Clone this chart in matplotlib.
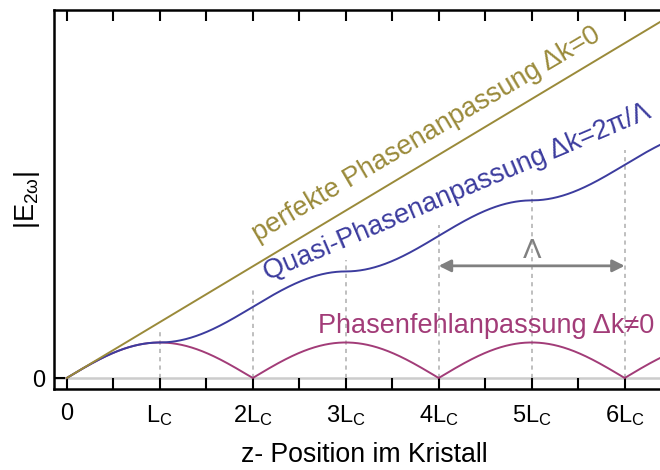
import numpy as np
import matplotlib
matplotlib.use("Agg")
import matplotlib.pyplot as plt

plt.rcParams['font.family'] = ['Liberation Sans', 'DejaVu Sans']
plt.rcParams['mathtext.fontset'] = 'custom'
plt.rcParams['mathtext.rm'] = 'Liberation Sans'
plt.rcParams['mathtext.it'] = 'Liberation Sans:italic'
plt.rcParams['mathtext.bf'] = 'Liberation Sans:bold'
plt.rcParams['mathtext.default'] = 'rm'

# Positions along the crystal in units of the coherence length L_C
tick_positions = [0, 1, 2, 3, 4, 5, 6]
tick_labels = ['0', '$L_C$', '$2L_C$', '$3L_C$', '$4L_C$', '$5L_C$', '$6L_C$']
half_positions = [0.5, 1.5, 2.5, 3.5, 4.5, 5.5]
z_end = 6.38

# Heights of the dotted guides at each multiple of L_C
guide_positions = [1, 2, 3, 4, 5, 6]
guide_heights = [0.82, 1.61, 2.11, 2.74, 3.41, 4.09]

# Poling period marker
period_start, period_end = 4, 6
period_height = 2.01

col_pm = '#9a8a3a'
col_qpm = '#3c3c9e'
col_mis = '#a23c78'
col_grey = '#808080'

# Field amplitude of the second harmonic (units: L_C), dk = pi / L_C
z = np.linspace(0, z_end, 2000)
dk = np.pi
E_pm = z
E_mis = np.abs(2.0 / dk * np.sin(dk * z / 2.0))
# quasi phase matching: the sign of d flips every L_C, so the in-phase
# contribution adds up with |cos(dk z / 2)|
growth = np.abs(np.cos(dk * z / 2.0))
E_qpm = np.concatenate([[0.0], np.cumsum(0.5 * (growth[1:] + growth[:-1]) * np.diff(z))])

fig = plt.figure(figsize=(6.6, 4.7), dpi=100)
ax = fig.add_axes([54 / 660, 81 / 470, 606 / 660, 379 / 470])
ax.set_xlim(-0.137, z_end)
ax.set_ylim(-0.197, 6.595)

ax.axhline(0, color='#cccccc', lw=1.8, zorder=0.5)
ax.vlines(guide_positions, 0, guide_heights, colors='#b4b4b4',
          linestyles=(0, (2.5, 2.5)), lw=1.2, zorder=0.8)

ax.plot(z, E_mis, color=col_mis, lw=1.4, zorder=2)
ax.plot(z, E_qpm, color=col_qpm, lw=1.4, zorder=2)
ax.plot(z, E_pm, color=col_pm, lw=1.4, zorder=2)

ax.text(3.906, 4.254, 'perfekte Phasenanpassung Δk=0', color=col_pm, fontsize=19.5,
        rotation=30.5, rotation_mode='anchor', ha='center', va='baseline')
ax.text(4.229, 3.219, 'Quasi-Phasenanpassung Δk=2π/Λ', color=col_qpm, fontsize=19.5,
        rotation=23, rotation_mode='anchor', ha='center', va='baseline')
ax.text(4.514, 0.806, 'Phasenfehlanpassung Δk≠0', color=col_mis, fontsize=19.5,
        ha='center', va='baseline')

ax.annotate('', xy=(period_end, period_height), xytext=(period_start, period_height),
            arrowprops=dict(arrowstyle='<|-|>', color=col_grey, lw=2,
                            mutation_scale=18, shrinkA=0, shrinkB=0))
ax.text((period_start + period_end) / 2, 2.15, 'Λ', color=col_grey, fontsize=20,
        ha='center', va='baseline')

ax.set_xticks(tick_positions)
ax.set_xticklabels(tick_labels)
ax.set_xticks(half_positions, minor=True)
ax.set_yticks([0])
ax.set_yticklabels(['0'])
ax.tick_params(axis='x', which='both', direction='in', length=8, width=1.5,
               top=True, labelsize=17, pad=10)
ax.tick_params(axis='y', which='both', direction='in', length=8, width=1.5,
               labelsize=17, pad=6)

for side in ['left', 'bottom', 'top']:
    ax.spines[side].set_linewidth(1.8)
ax.spines['right'].set_visible(False)

ax.set_xlabel('z- Position im Kristall', fontsize=19.2, va='center')
ax.xaxis.set_label_coords(0.512, -0.174)
ax.set_ylabel('$|E_{2ω}|$', fontsize=19.5, va='center')
ax.yaxis.set_label_coords(-0.045, 0.5)

fig.savefig('out.png', dpi=100)
